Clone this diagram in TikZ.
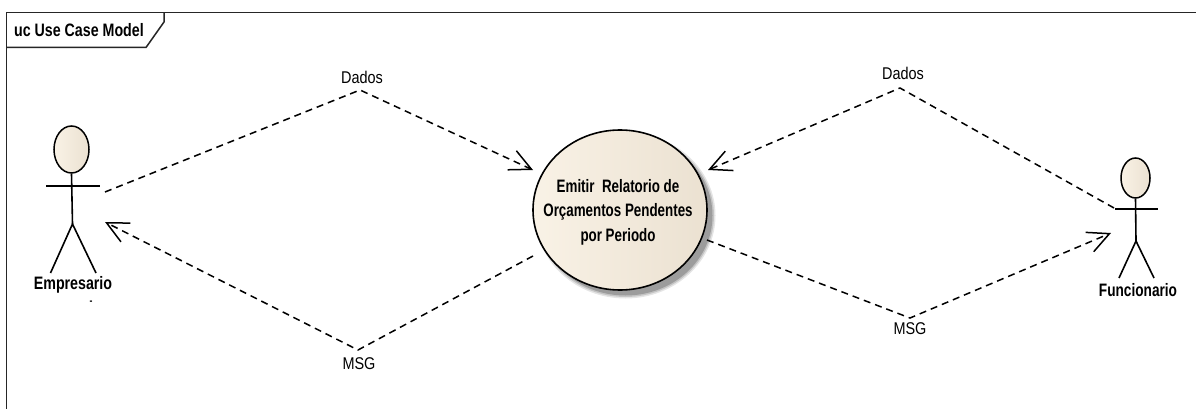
\documentclass[tikz,border=0pt]{standalone}
\usepackage{fontspec}
\setmainfont{Liberation Sans}
\usetikzlibrary{arrows.meta,shapes.geometric}
\definecolor{fillL}{HTML}{F9F2E6}
\definecolor{fillR}{HTML}{EBE1D1}
\tikzset{
  x=1pt,y=-1pt,
  frameline/.style={draw=black!85,line width=1.5pt},
  limb/.style={draw=black,line width=1.6pt},
  flow/.style={draw=black,line width=1.5pt,dash pattern=on 7pt off 5pt,-{Straight Barb[length=21.5pt,width=21pt,line width=1.5pt]}},
  head/.style={ellipse,draw=black,line width=1.5pt,left color=fillL,right color=fillR,inner sep=0pt},
  usecase/.style={ellipse,draw=black,line width=1.6pt,left color=fillL,right color=fillR,inner sep=0pt,minimum width=174pt,minimum height=160pt},
  boldtext/.style={font=\fontsize{18}{18}\selectfont\bfseries,xscale=.79,inner sep=0pt,align=center},
  plaintext/.style={font=\fontsize{17}{18}\selectfont,xscale=.85,inner sep=0pt},
}
\begin{document}
\begin{tikzpicture}
\useasboundingbox (0,0) rectangle (1196,409);
\fill[white] (0,0) rectangle (1196,409);
% frame
\coordinate (fBL) at (6.5,409);
\coordinate (fTL) at (6.5,12.5);
\coordinate (fTR) at (1196,12.5);
\coordinate (tabA) at (6.5,47.5);
\coordinate (tabB) at (146,47.5);
\coordinate (tabC) at (164,22);
\coordinate (tabD) at (164,12.5);
\draw[frameline] (fBL) -- (fTL) -- (fTR);
\draw[frameline] (tabA) -- (tabB) -- (tabC) -- (tabD);
\node[boldtext,anchor=west] (title) at (14,30) {uc Use Case Model};
% shadow and use case
\foreach \o/\e in {.10/3,.14/1.5,.2/0}{
  \fill[black,opacity=\o] (625.5,215.5) ellipse [x radius=87+\e,y radius=80+\e];
}
\node[usecase] (uc) at (620,210) {};
\node[boldtext,xscale=.94] (uctext) at (618,212) {Emitir\ \ Relatorio de\\[6.5pt]Orçamentos Pendentes\\[6.5pt]por Periodo};
% left actor
\node[head,minimum width=35pt,minimum height=47pt] (h1) at (71.5,149.5) {};
\coordinate (hip1) at (72.5,224);
\coordinate (armL1) at (46,186);
\coordinate (armR1) at (100,186);
\coordinate (footL1) at (50.5,273);
\coordinate (footR1) at (96,273);
\draw[limb] (h1.south) -- (hip1);
\draw[limb] (armL1) -- (armR1);
\draw[limb] (footL1) -- (hip1) -- (footR1);
\node[boldtext] (a1) at (73,285) {Empresario};
\node[boldtext,font=\fontsize{11}{12}\selectfont\bfseries] (a1dot) at (91,302.5) {-};
% right actor
\node[head,minimum width=29pt,minimum height=40pt] (h2) at (1135.5,178) {};
\coordinate (hip2) at (1136,241);
\coordinate (armL2) at (1115,209);
\coordinate (armR2) at (1158,209);
\coordinate (footL2) at (1119,278);
\coordinate (footR2) at (1154,278);
\draw[limb] (h2.south) -- (hip2);
\draw[limb] (armL2) -- (armR2);
\draw[limb] (footL2) -- (hip2) -- (footR2);
\node[boldtext,xscale=.96] (a2) at (1138,290) {Funcionario};
% connector ends
\coordinate (e1out) at (105,192);
\coordinate (e1in) at (105,222);
\coordinate (ucIL) at (533,170);
\coordinate (ucIR) at (708,170);
\coordinate (ucOL) at (533,256);
\coordinate (ucOR) at (707,240);
\coordinate (f1out) at (1114,208);
\coordinate (f1in) at (1111,233);
\coordinate (w1) at (360,90);
\coordinate (w2) at (900,88);
\coordinate (w3) at (358,350);
\coordinate (w4) at (910,318);
\draw[flow] (e1out) -- (w1) -- (ucIL);
\draw[flow] (f1out) -- (w2) -- (ucIR);
\draw[flow] (ucOL) -- (w3) -- (e1in);
\draw[flow] (ucOR) -- (w4) -- (f1in);
\node[plaintext] (l1) at (362,77) {Dados};
\node[plaintext] (l2) at (903,73) {Dados};
\node[plaintext] (l3) at (359,364) {MSG};
\node[plaintext] (l4) at (910,329) {MSG};
\end{tikzpicture}
\end{document}
